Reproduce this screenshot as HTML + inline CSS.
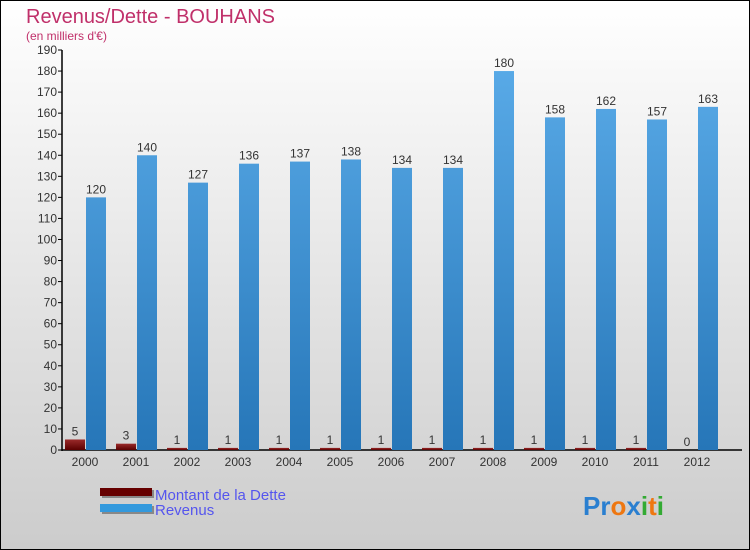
<!DOCTYPE html>
<html><head><meta charset="utf-8"><style>
html,body{margin:0;padding:0;}
svg{display:block;font-family:"Liberation Sans",sans-serif;}
</style></head><body>
<svg id="chart" width="750" height="550" viewBox="0 0 750 550" xmlns="http://www.w3.org/2000/svg">
<defs>
<linearGradient id="bg" x1="0" y1="0" x2="0" y2="1"><stop offset="0" stop-color="#ffffff"/><stop offset="1" stop-color="#cccccc"/></linearGradient>
<linearGradient id="rev" gradientUnits="userSpaceOnUse" x1="0" y1="60" x2="0" y2="450"><stop offset="0" stop-color="#5aabe8"/><stop offset="1" stop-color="#2676b8"/></linearGradient>
<linearGradient id="det" x1="0" y1="0" x2="0" y2="1"><stop offset="0" stop-color="#9a2a2a"/><stop offset="1" stop-color="#5a0000"/></linearGradient>
</defs>
<rect x="0.5" y="0.5" width="749" height="549" fill="url(#bg)" stroke="#000"/>
<text x="26" y="23" font-size="20" fill="#c0306a">Revenus/Dette - BOUHANS</text>
<text x="26" y="40" font-size="12" fill="#c0306a">(en milliers d'€)</text>
<g id="axes"></g>
<g id="bars"></g>
<g>
<rect x="102" y="490" width="52" height="8" fill="#888"/>
<rect x="100" y="488" width="52" height="8" fill="#660000"/>
<text x="155" y="500" font-size="15" fill="#5555ee">Montant de la Dette</text>
<rect x="102" y="506" width="52" height="8" fill="#888"/>
<rect x="100" y="504" width="52" height="8" fill="#3399dd"/>
<text x="155" y="515" font-size="15" fill="#5555ee">Revenus</text>
</g>
<text x="583" y="515" font-size="26" font-weight="bold"><tspan fill="#2a7fd0">Pr</tspan><tspan fill="#ee7711">o</tspan><tspan fill="#2a7fd0">x</tspan><tspan fill="#33aa33">i</tspan><tspan fill="#ee7711">t</tspan><tspan fill="#33aa33">i</tspan></text>
</svg>
<script>
const years = ["2000","2001","2002","2003","2004","2005","2006","2007","2008","2009","2010","2011","2012"];
const dette = [5,3,1,1,1,1,1,1,1,1,1,1,0];
const revenus = [120,140,127,136,137,138,134,134,180,158,162,157,163];
const yTicks = [0,10,20,30,40,50,60,70,80,90,100,110,120,130,140,150,160,170,180,190];

const NS = "http://www.w3.org/2000/svg";
const y0 = 450, yTop = 50, yMax = 190;
function yScale(v){ return y0 - v*(y0-yTop)/yMax; }
function xCenter(i){ return 85 + 51*i; }
function mk(tag, attrs, parent){ const e=document.createElementNS(NS,tag); for(const k in attrs) e.setAttribute(k,attrs[k]); parent.appendChild(e); return e; }

const axes = document.getElementById("axes");
const bars = document.getElementById("bars");
const yAxis = mk("line",{x1:62,y1:yTop,x2:62,y2:y0+1,stroke:"#000","stroke-width":1.5},axes);


const xAxis = mk("line",{x1:62,y1:y0,x2:742,y2:y0,stroke:"#000","stroke-width":1.5},axes);


yTicks.forEach(t=>{
  const y=yScale(t);
  const tk=mk("line",{x1:58,y1:y,x2:62,y2:y,stroke:"#000"},axes);
  
  
  const lb=mk("text",{x:57,y:y+4,"font-size":12,fill:"#333","text-anchor":"end"},axes);
  lb.textContent=t;
  
  
});
years.forEach((yr,i)=>{
  const c=xCenter(i);
  const lb=mk("text",{x:c,y:466,"font-size":12,fill:"#333","text-anchor":"middle"},axes);
  lb.textContent=yr;
  
  
  const dv=dette[i], dy=yScale(dv);
  const db=mk("rect",{x:c-20,y:dy,width:20,height:Math.max(y0-dy,0),fill:"url(#det)"},bars);
  
  
  const dl=mk("text",{x:c-10,y:dy-4,"font-size":12,fill:"#333","text-anchor":"middle"},bars);
  dl.textContent=dv;
  
  
  const rv=revenus[i], ry=yScale(rv);
  const rb=mk("rect",{x:c+1,y:ry,width:20,height:y0-ry,fill:"url(#rev)"},bars);
  
  
  const rl=mk("text",{x:c+11,y:ry-4,"font-size":12,fill:"#333","text-anchor":"middle"},bars);
  rl.textContent=rv;
  
  
});
</script>
</body></html>
